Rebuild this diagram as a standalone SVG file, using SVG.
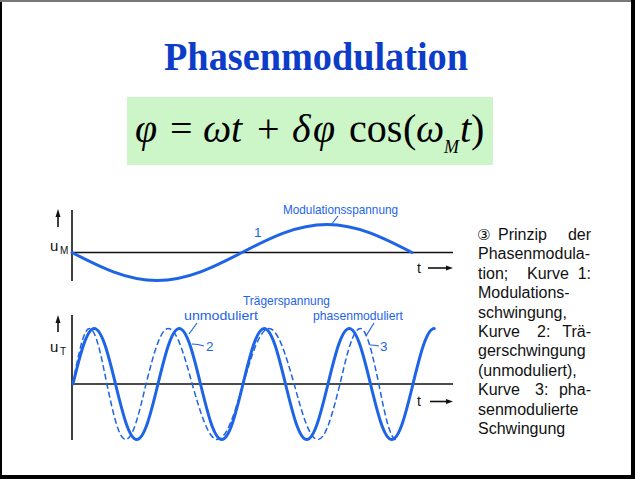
<svg xmlns="http://www.w3.org/2000/svg" width="635" height="479" viewBox="0 0 635 479">
<style>
.ax{stroke:#111;stroke-width:1.6;fill:none}
.cv{stroke:#1e64e6;stroke-width:3;fill:none;stroke-linecap:round;stroke-linejoin:round}
.dcv{stroke:#1e64e6;stroke-width:1.5;fill:none;stroke-dasharray:6 3}
.ld{stroke:#1e64e6;stroke-width:1.2;fill:none}
.lb{font-family:"Liberation Sans",Arial,sans-serif;font-size:13.5px;fill:#1e64e6}
.bk{font-family:"Liberation Sans",Arial,sans-serif;fill:#111}
.cap{font-family:"Liberation Sans",Arial,sans-serif;font-size:16px;fill:#111}
.fm{font-family:"Liberation Serif","Times New Roman",serif;font-size:40px;fill:#000}
.sub{font-family:"Liberation Serif","Times New Roman",serif;font-size:18px;font-style:italic;fill:#000}
.it{font-style:italic}
</style>
<rect x="0" y="0" width="635" height="479" fill="#000"/>
<rect x="0" y="0" width="631" height="2" fill="#777"/>
<rect x="2" y="2" width="629" height="473" fill="#fff"/>

<g id="title">
<text x="164" y="70" font-family="'Liberation Serif','Times New Roman',serif" font-weight="bold" font-size="40" fill="#0c3cc8" textLength="304" lengthAdjust="spacingAndGlyphs">Phasenmodulation</text>
</g>

<g id="formula">
<rect x="127" y="97" width="366" height="68" fill="#ccf5c8"/>
<text class="fm" y="142"><tspan class="it" x="135">φ</tspan><tspan x="170">=</tspan><tspan class="it" x="203">ω</tspan><tspan class="it" x="231">t</tspan><tspan x="257">+</tspan><tspan class="it" x="292">δ</tspan><tspan class="it" x="313">φ</tspan><tspan x="349">cos</tspan><tspan x="403">(</tspan><tspan class="it" x="416">ω</tspan></text>
<text class="sub" x="444" y="153">M</text>
<text class="fm" y="142"><tspan class="it" x="460">t</tspan><tspan x="471">)</tspan></text>
</g>

<g id="chart-modulation">
<line class="ax" x1="72" y1="210" x2="72" y2="281"/>
<line class="ax" x1="72" y1="252.5" x2="453" y2="252.5"/>
<line class="ax" x1="58" y1="227" x2="58" y2="215"/>
<polygon points="55.5,217 58,209 60.5,217" fill="#111"/>
<text class="bk" x="50" y="251" font-size="15">u</text>
<text class="bk" x="60" y="254" font-size="10">M</text>
<text class="bk" x="417" y="273" font-size="14">t</text>
<line class="ax" x1="428" y1="268" x2="447" y2="268"/>
<polygon points="446,265.5 453,268 446,270.5" fill="#111"/>
<path class="cv" d="M72,252.5 c27.75,14.36 54.24,28 85,28 c30.76,0 57.25,-13.64 85,-28 c27.75,-14.36 54.24,-28 85,-28 c30.76,0 57.25,13.64 85,28"/>
<line class="ld" x1="338" y1="216" x2="331" y2="225"/>
<text class="lb" x="283" y="214" textLength="115" lengthAdjust="spacingAndGlyphs">Modulationsspannung</text>
<text class="lb" x="254" y="237">1</text>
</g>

<g id="chart-carrier">
<line class="ax" x1="72" y1="315" x2="72" y2="440"/>
<line class="ax" x1="72" y1="384" x2="453" y2="384"/>
<line class="ax" x1="58" y1="332" x2="58" y2="321"/>
<polygon points="55.5,323 58,315 60.5,323" fill="#111"/>
<text class="bk" x="50" y="352" font-size="15">u</text>
<text class="bk" x="60" y="355" font-size="10">T</text>
<text class="bk" x="417" y="406" font-size="14">t</text>
<line class="ax" x1="430" y1="401.5" x2="447" y2="401.5"/>
<polygon points="446,399 453,401.5 446,404" fill="#111"/>
<path class="cv" d="M73,384 c6.94,-28.46 13.56,-55.5 21.25,-55.5 c7.69,0 14.31,27.04 21.25,55.5 c6.94,28.46 13.56,55.5 21.25,55.5 c7.69,0 14.31,-27.04 21.25,-55.5 c6.94,-28.46 13.56,-55.5 21.25,-55.5 c7.69,0 14.31,27.04 21.25,55.5 c6.94,28.46 13.56,55.5 21.25,55.5 c7.69,0 14.31,-27.04 21.25,-55.5 c6.94,-28.46 13.56,-55.5 21.25,-55.5 c7.69,0 14.31,27.04 21.25,55.5 c6.94,28.46 13.56,55.5 21.25,55.5 c7.69,0 14.31,-27.04 21.25,-55.5 c6.94,-28.46 13.56,-55.5 21.25,-55.5 c7.69,0 14.31,27.04 21.25,55.5 c6.94,28.46 13.56,55.5 21.25,55.5 c7.69,0 14.31,-27.04 21.25,-55.5 c6.94,-28.46 13.56,-55.5 21.25,-55.5"/>
<path class="dcv" d="M72.8,384 C78.24,355.54 83.42,328.5 89.45,328.5 C95.75,328.5 101.18,355.54 106.86,384 C112.97,412.46 118.81,439.5 125.58,439.5 C132.97,439.5 139.33,412.46 146,384 C153.26,355.54 160.2,328.5 168.25,328.5 C176.91,328.5 184.36,355.54 192.17,384 C200.4,412.46 208.25,439.5 217.37,439.5 C226.73,439.5 234.78,412.46 243.22,384 C251.65,355.54 259.7,328.5 269.05,328.5 C278.13,328.5 285.95,355.54 294.14,384 C301.9,412.46 309.31,439.5 317.92,439.5 C325.91,439.5 332.79,412.46 340,384 C346.61,355.54 352.92,328.5 360.25,328.5 C366.97,328.5 372.76,355.54 378.83,384 C384.48,412.46 389.87,439.5 396.13,439.5"/>
<text class="lb" x="243" y="305" textLength="87" lengthAdjust="spacingAndGlyphs">Trägerspannung</text>
<text class="lb" x="184" y="320" textLength="74" lengthAdjust="spacingAndGlyphs">unmoduliert</text>
<text class="lb" x="313" y="320" textLength="90" lengthAdjust="spacingAndGlyphs">phasenmoduliert</text>
<line class="ld" x1="197" y1="323" x2="189" y2="334"/>
<line class="ld" x1="374" y1="323" x2="366" y2="336"/>
<path class="ld" d="M192,344 Q198,344 204,346"/>
<path class="ld" d="M370,345 Q374,345 379,346"/>
<text class="lb" x="206" y="351">2</text>
<text class="lb" x="380" y="351">3</text>
</g>

<g id="caption">
<text class="cap" y="240"><tspan x="477" font-family="'DejaVu Sans',sans-serif" font-size="15">③</tspan><tspan x="498">Prinzip</tspan><tspan x="591" text-anchor="end">der</tspan></text>
<text class="cap" x="478" y="259.4">Phasenmodula-</text>
<text class="cap" y="278.8"><tspan x="478">tion;</tspan><tspan x="527">Kurve</tspan><tspan x="591" text-anchor="end">1:</tspan></text>
<text class="cap" x="478" y="298.2">Modulations-</text>
<text class="cap" x="478" y="317.6">schwingung,</text>
<text class="cap" y="337"><tspan x="478">Kurve</tspan><tspan x="537">2:</tspan><tspan x="591" text-anchor="end">Trä-</tspan></text>
<text class="cap" x="478" y="356.4">gerschwingung</text>
<text class="cap" x="478" y="375.8">(unmoduliert),</text>
<text class="cap" y="395.2"><tspan x="478">Kurve</tspan><tspan x="535">3:</tspan><tspan x="591" text-anchor="end">pha-</tspan></text>
<text class="cap" x="478" y="414.6">senmodulierte</text>
<text class="cap" x="478" y="434">Schwingung</text>
</g>
</svg>
